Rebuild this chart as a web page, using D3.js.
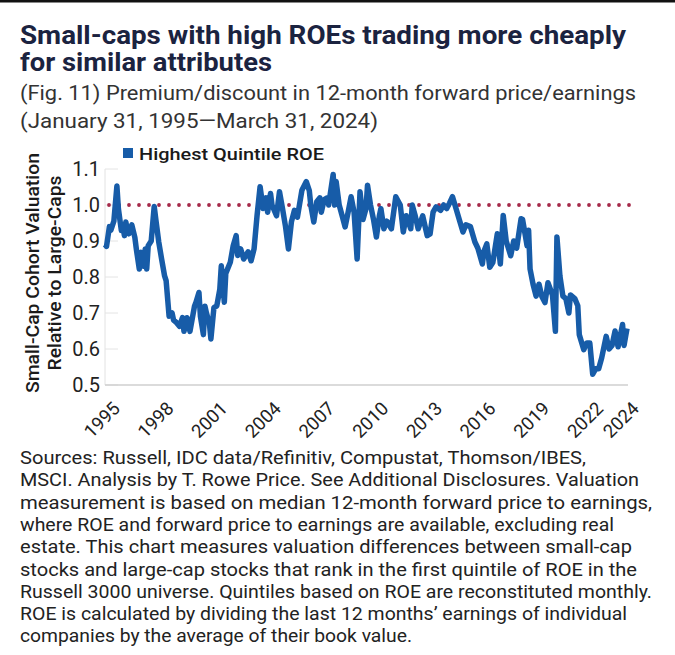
<!DOCTYPE html>
<html>
<head>
<meta charset="utf-8">
<script src="https://cdn.jsdelivr.net/npm/d3@7"></script>
<style>
  html, body { margin: 0; padding: 0; background: #fff; }
  svg { display: block; }
</style>
</head>
<body>
<svg id="chart" width="675" height="655"></svg>
<script>
// ---------------- DATA ----------------
const titleLines = ["Small-caps with high ROEs trading more cheaply", "for similar attributes"];
const subtitleLines = ["(Fig. 11) Premium/discount in 12-month forward price/earnings", "(January 31, 1995\u2014March 31, 2024)"];
const seriesName = "Highest Quintile ROE";
const yAxisTitle = ["Small-Cap Cohort Valuation", "Relative to Large-Caps"];
const yTicks = [0.5, 0.6, 0.7, 0.8, 0.9, 1.0, 1.1];
const xTickYears = [1995, 1998, 2001, 2004, 2007, 2010, 2013, 2016, 2019, 2022, 2024];
const referenceValue = 1.0;

const dates = [
  "1995-01","1995-02","1995-04","1995-05","1995-07","1995-09","1995-10","1995-12",
  "1996-01","1996-02","1996-03","1996-04","1996-05","1996-07","1996-09","1996-10","1996-12",
  "1997-01","1997-03","1997-04","1997-05","1997-06","1997-08","1997-10","1997-11",
  "1998-01","1998-03","1998-05","1998-06","1998-08","1998-10","1998-11",
  "1999-01","1999-03","1999-05","1999-06","1999-08","1999-10",
  "2000-01","2000-02","2000-04","2000-05","2000-07","2000-08","2000-09","2000-11","2000-12",
  "2001-02","2001-04","2001-06","2001-07","2001-09","2001-10",
  "2002-01","2002-03","2002-05","2002-06","2002-08","2002-10",
  "2003-01","2003-03","2003-05","2003-07","2003-09","2003-11",
  "2004-01","2004-02","2004-04","2004-05","2004-08","2004-10","2004-12",
  "2005-02","2005-04","2005-06","2005-08","2005-10",
  "2006-01","2006-04","2006-06","2006-07","2006-09","2006-11",
  "2007-01","2007-02","2007-04","2007-06","2007-07","2007-10","2007-11","2007-12",
  "2008-02","2008-04","2008-06","2008-08","2008-10","2008-12",
  "2009-02","2009-04","2009-06","2009-08","2009-09","2009-11",
  "2010-01","2010-03","2010-05","2010-06","2010-08","2010-10",
  "2011-01","2011-04","2011-07","2011-09","2011-11",
  "2012-02","2012-03","2012-05","2012-07","2012-10",
  "2013-01","2013-03","2013-05","2013-07","2013-10","2013-12",
  "2014-02","2014-04","2014-06","2014-08","2014-11",
  "2015-01","2015-03","2015-06","2015-09","2015-11",
  "2016-02","2016-03","2016-05","2016-07","2016-09","2016-12",
  "2017-02","2017-04","2017-06","2017-09","2017-11",
  "2018-01","2018-04","2018-05","2018-08","2018-09","2018-10","2018-12",
  "2019-02","2019-04","2019-06","2019-08","2019-10",
  "2020-01","2020-03","2020-04","2020-06","2020-08","2020-10","2020-12",
  "2021-01","2021-04","2021-06","2021-07","2021-10","2021-12",
  "2022-02","2022-04","2022-06","2022-08","2022-10",
  "2023-01","2023-03","2023-05","2023-07","2023-09","2023-12",
  "2024-01","2024-03"
];
const values = [
  0.89,0.885,0.94,0.93,0.955,1.053,0.99,0.929,
  0.94,0.915,0.953,0.93,0.92,0.945,0.91,0.878,0.822,
  0.869,0.83,0.878,0.822,0.887,0.90,0.996,0.962,
  0.898,0.85,0.803,0.79,0.691,0.70,0.68,
  0.673,0.663,0.687,0.649,0.687,0.649,
  0.719,0.73,0.757,0.691,0.64,0.719,0.70,0.67,0.628,
  0.715,0.72,0.766,0.831,0.73,0.81,
  0.841,0.887,0.915,0.86,0.878,0.85,
  0.87,0.845,0.878,0.971,1.051,0.99,
  1.02,0.98,1.032,1.0,0.97,1.037,0.99,
  0.94,0.878,0.953,0.985,0.966,
  1.041,1.065,1.04,1.0,0.953,1.009,
  1.02,0.98,1.015,1.02,1.0,1.085,1.0,1.065,
  1.0,0.97,0.939,0.98,1.023,0.98,
  0.85,1.037,0.96,0.99,1.055,1.0,
  0.96,0.911,0.97,0.99,0.934,0.955,
  0.934,1.023,1.0,0.925,0.97,
  0.934,1.0,0.97,0.934,0.97,
  0.915,0.92,0.98,0.995,0.985,1.0,
  0.99,1.005,1.023,0.995,0.953,
  0.925,0.945,0.94,0.897,0.88,
  0.836,0.87,0.892,0.827,0.84,0.92,
  0.836,0.971,0.90,0.859,0.90,
  0.88,0.962,0.96,0.887,0.93,0.822,0.78,
  0.747,0.78,0.745,0.729,0.784,
  0.75,0.649,0.911,0.803,0.747,0.74,0.70,
  0.75,0.74,0.72,0.64,0.598,0.617,
  0.617,0.53,0.545,0.545,0.575,
  0.635,0.60,0.61,0.65,0.606,0.668,
  0.61,0.657
];
const footnoteLines = [
  "Sources: Russell, IDC data/Refinitiv, Compustat, Thomson/IBES,",
  "MSCI. Analysis by T. Rowe Price. See Additional Disclosures. Valuation",
  "measurement is based on median 12-month forward price to earnings,",
  "where ROE and forward price to earnings are available, excluding real",
  "estate. This chart measures valuation differences between small-cap",
  "stocks and large-cap stocks that rank in the first quintile of ROE in the",
  "Russell 3000 universe. Quintiles based on ROE are reconstituted monthly.",
  "ROE is calculated by dividing the last 12 months\u2019 earnings of individual",
  "companies by the average of their book value."
];

// ---------------- LAYOUT ----------------
const svg = d3.select("#chart");
const FONT = "Roboto, 'Noto Sans', Arial, sans-serif";
const parse = d3.timeParse("%Y-%m");
const data = dates.map((d, i) => ({ date: parse(d), value: values[i] }));

const plot = { left: 105, right: 627, top: 169, bottom: 385 };

const x = d3.scaleTime()
  .domain([parse("1995-01"), parse("2024-03")])
  .range([plot.left, plot.right]);
const y = d3.scaleLinear()
  .domain([0.5, 1.1])
  .range([plot.bottom, plot.top]);

// top rule
svg.append("rect").attr("x", 0).attr("y", 0).attr("width", 675).attr("height", 2.5).attr("fill", "#111");

// title
const titleW = [606, 252];
titleLines.forEach((t, i) => {
  svg.append("text")
    .attr("x", 20).attr("y", 44 + i * 27)
    .attr("font-family", FONT).attr("font-weight", 700).attr("font-size", 25)
    .attr("fill", "#1b2340").text(t)
    .attr("textLength", titleW[i]).attr("lengthAdjust", "spacingAndGlyphs");
});
// subtitle
const subW = [616, 358];
subtitleLines.forEach((t, i) => {
  svg.append("text")
    .attr("x", 20).attr("y", 100 + i * 28)
    .attr("font-family", FONT).attr("font-weight", 400).attr("font-size", 19.5)
    .attr("fill", "#333").text(t)
    .attr("textLength", subW[i]).attr("lengthAdjust", "spacingAndGlyphs");
});

// legend
svg.append("rect").attr("x", 123).attr("y", 148).attr("width", 10).attr("height", 10).attr("fill", "#175ca8");
svg.append("text").attr("x", 139).attr("y", 159.5)
  .attr("font-family", FONT).attr("font-weight", 500).attr("font-size", 17)
  .attr("fill", "#1a1a1a").text(seriesName)
  .attr("textLength", 185).attr("lengthAdjust", "spacingAndGlyphs");

// y axis title
const yTitleW = [240, 195];
yAxisTitle.forEach((t, i) => {
  svg.append("text")
    .attr("transform", `translate(${39 + i * 22},273) rotate(-90)`)
    .attr("text-anchor", "middle")
    .attr("font-family", FONT).attr("font-weight", 500).attr("font-size", 18)
    .attr("fill", "#1a1a1a").text(t)
    .attr("textLength", yTitleW[i]).attr("lengthAdjust", "spacingAndGlyphs");
});

// left axis line and baseline
svg.append("line").attr("x1", plot.left).attr("x2", plot.left)
  .attr("y1", plot.top).attr("y2", plot.bottom).attr("stroke", "#e2e2e2").attr("stroke-width", 1);
// grid stubs
svg.append("g").selectAll("line").data(yTicks).join("line")
  .attr("x1", plot.left).attr("x2", plot.left + 13)
  .attr("y1", d => y(d)).attr("y2", d => y(d))
  .attr("stroke", "#e4e4e4").attr("stroke-width", 1);
svg.append("line").attr("x1", plot.left).attr("x2", plot.right + 1)
  .attr("y1", plot.bottom).attr("y2", plot.bottom).attr("stroke", "#cfcfcf").attr("stroke-width", 1.5);

// y axis
const yAxis = svg.append("g").attr("transform", `translate(${plot.left - 5},0)`)
  .call(d3.axisLeft(y).tickValues(yTicks).tickFormat(d3.format(".1f")).tickSize(0).tickPadding(0));
yAxis.select(".domain").remove();
yAxis.selectAll("text").attr("font-family", FONT).attr("font-size", 20).attr("fill", "#222");

// x axis
const xAxis = svg.append("g").attr("transform", `translate(0,${plot.bottom})`)
  .call(d3.axisBottom(x).tickValues(xTickYears.map(yr => new Date(yr, 0, 1))).tickFormat(d3.timeFormat("%Y")).tickSize(0));
xAxis.select(".domain").remove();
xAxis.selectAll("text")
  .attr("font-family", FONT).attr("font-size", 18.5).attr("fill", "#222")
  .attr("text-anchor", "end")
  .attr("dy", "0.35em").attr("y", 0)
  .attr("transform", "translate(11,20) rotate(-45)");

// reference dotted line
svg.append("line")
  .attr("x1", plot.left + 4).attr("x2", plot.right + 6)
  .attr("y1", y(referenceValue)).attr("y2", y(referenceValue))
  .attr("stroke", "#a52a4a").attr("stroke-width", 3.8)
  .attr("stroke-linecap", "round").attr("stroke-dasharray", "0 10");

// series line
svg.append("path").datum(data)
  .attr("fill", "none").attr("stroke", "#175ca8").attr("stroke-width", 5.5)
  .attr("stroke-linejoin", "round")
  .attr("d", d3.line().x(d => x(d.date)).y(d => y(d.value)));

// footnote
const footW = [566, 619, 632, 594, 612, 617, 632, 607, 392];
footnoteLines.forEach((t, i) => {
  svg.append("text")
    .attr("x", 20).attr("y", 464 + i * 22.3)
    .attr("font-family", FONT).attr("font-size", 18).attr("fill", "#222")
    .text(t)
    .attr("textLength", footW[i]).attr("lengthAdjust", "spacingAndGlyphs");
});
</script>
</body>
</html>
